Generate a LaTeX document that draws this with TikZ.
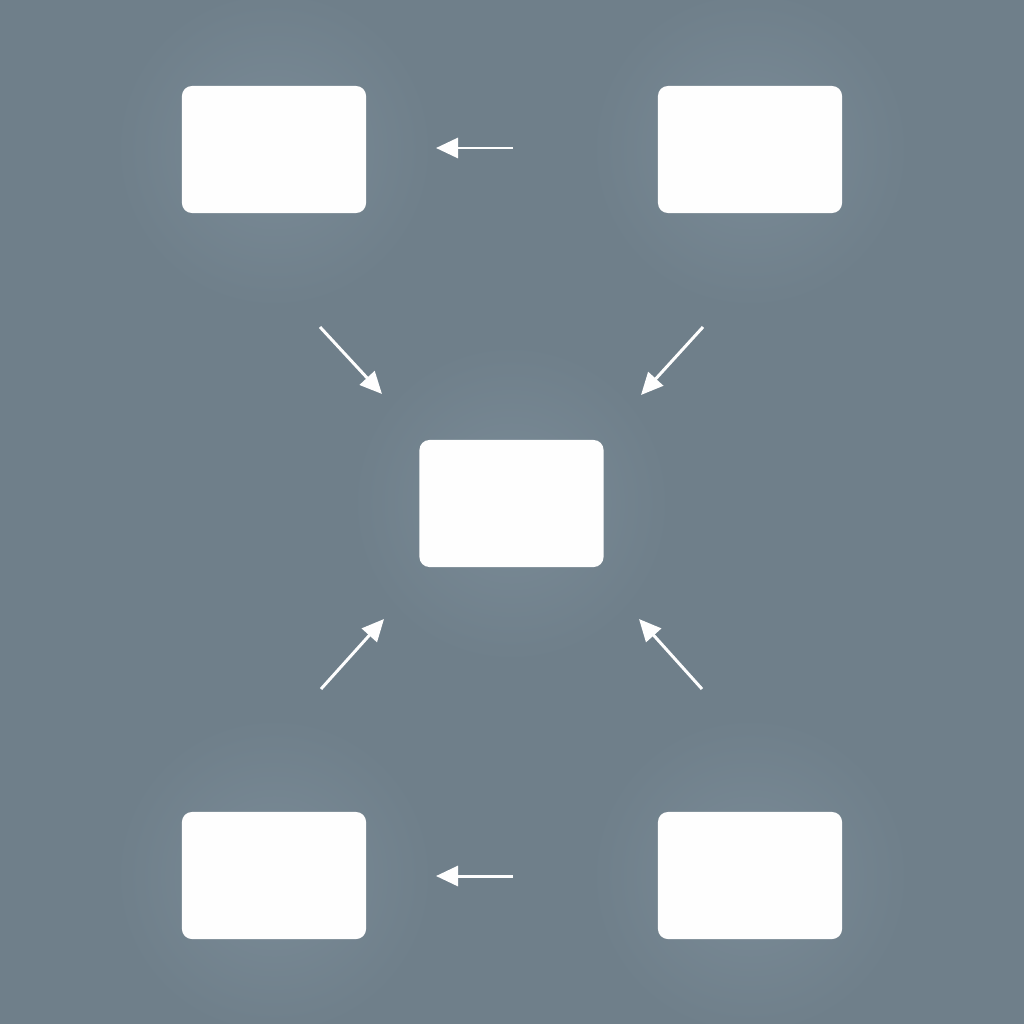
\documentclass[tikz,border=0pt]{standalone}
\usepackage{tikz}
\usetikzlibrary{arrows.meta,positioning}
\definecolor{bg-color}{HTML}{6F7F8A}
\definecolor{glow-color}{HTML}{7A8B97}
\definecolor{box-color}{HTML}{FEFEFE}
\tikzset{
  card/.style={rectangle, rounded corners=0.1cm, fill=box-color, draw=none,
    minimum width=1.84cm, minimum height=1.27cm, inner sep=0},
  glow/.style={circle, draw=none, minimum size=3.2cm,
    inner color=glow-color, outer color=bg-color},
  flow/.style={draw=box-color, line width=0.85pt,
    -{Triangle[length=0.22cm,width=0.2cm]}}
}

\begin{document}
\begin{tikzpicture}[x=0.01cm, y=-0.01cm]
    % background
    \fill[bg-color] (0, 0) rectangle (1024, 1024);
    \useasboundingbox (0, 0) rectangle (1024, 1024);
    % soft halos
    \foreach \gx/\gy in {274/149, 750/149, 511/503, 274/876, 750/876}
      \node[glow] at (\gx, \gy) {};
    % cards
    \node[card] (topL) at (274, 149.5) {};
    \node[card] (topR) at (750, 149.5) {};
    \node[card] (hub) at (511.5, 503.5) {};
    \node[card] (botL) at (274, 875.5) {};
    \node[card] (botR) at (750, 875.5) {};
    % arrow ends
    \coordinate (topA) at (513, 148);  \coordinate (topB) at (436, 148);
    \coordinate (botA) at (513, 876);  \coordinate (botB) at (436, 876);
    \coordinate (nwA) at (320, 327);   \coordinate (nwB) at (382, 394);
    \coordinate (neA) at (703, 327);   \coordinate (neB) at (641, 395);
    \coordinate (swA) at (321, 689);   \coordinate (swB) at (384, 619);
    \coordinate (seA) at (702, 689);   \coordinate (seB) at (639, 619);
    % arrows
    \draw[flow] (topA) -- (topB);
    \draw[flow] (botA) -- (botB);
    \draw[flow] (nwA) -- (nwB);
    \draw[flow] (neA) -- (neB);
    \draw[flow] (swA) -- (swB);
    \draw[flow] (seA) -- (seB);
\end{tikzpicture}
\end{document}
